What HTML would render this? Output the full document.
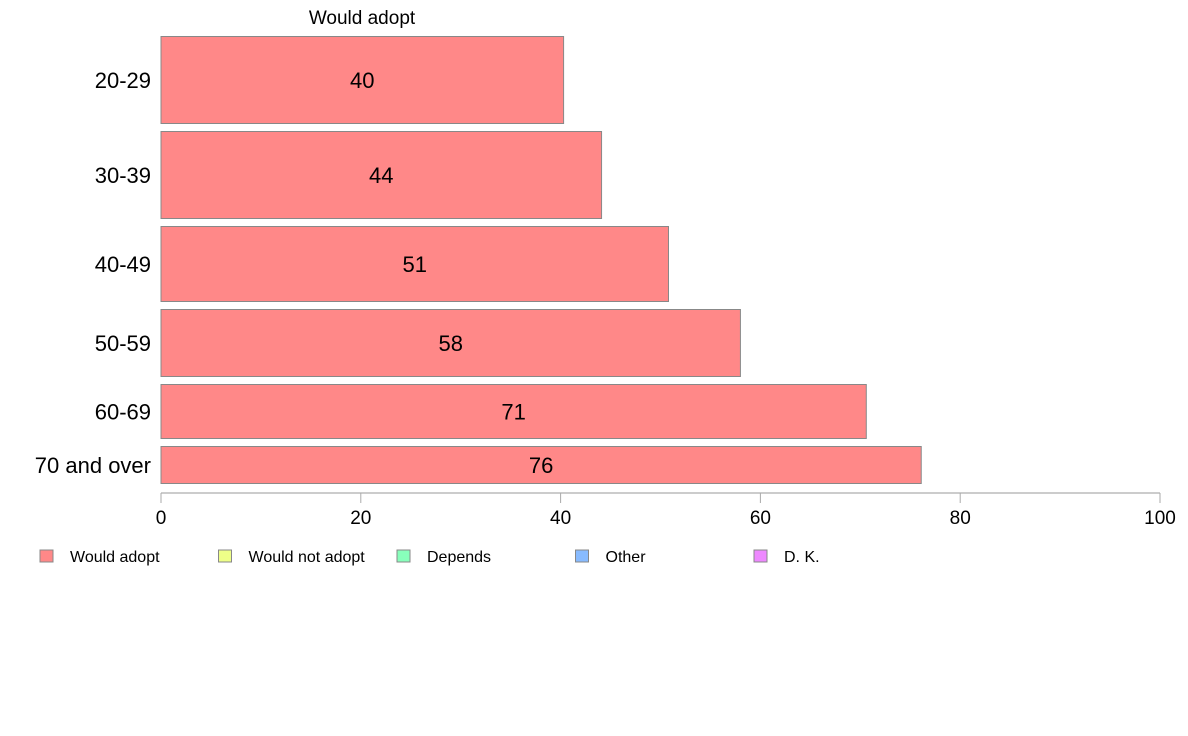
<!DOCTYPE html>
<html><head><meta charset="utf-8"><style>
html,body{margin:0;padding:0;background:#fff;}
svg{display:block;font-family:"Liberation Sans",Arial,sans-serif;}
</style></head><body>
<svg id="chart" width="1188" height="736" viewBox="0 0 1188 736">
<text x="362" y="24" font-size="19" text-anchor="middle">Would adopt</text>
<g id="bars"></g>
<g id="axis"></g>
<g id="legend"></g>
</svg>
<script>
const categories = ["20-29","30-39","40-49","50-59","60-69","70 and over"];
const wouldAdopt = [40.3, 44.1, 50.8, 58.0, 70.6, 76.1];
const valueLabels = ["40","44","51","58","71","76"];
const weights = [87, 87, 75, 67, 54, 37];
const xTicks = [0,20,40,60,80,100];
const legendLabels = ["Would adopt","Would not adopt","Depends","Other","D. K."];
const legendColors = ["#ff8888","#eeff88","#88ffbb","#88bbff","#ee88ff"];

const NS="http://www.w3.org/2000/svg";
function mk(tag,attrs,parent){const e=document.createElementNS(NS,tag);for(const k in attrs)e.setAttribute(k,attrs[k]);parent.appendChild(e);return e;}
const x0=161,x1=1160,barTop=36.5,gap=8;
function xs(v){return x0+(v/100)*(x1-x0);}
const bars=document.getElementById('bars');
let yPos=barTop;
categories.forEach((c,i)=>{
  const h=weights[i];
  const r=mk('rect',{x:x0,y:yPos,width:xs(wouldAdopt[i])-x0,height:h,fill:"#ff8888",stroke:"#888","stroke-width":1},bars);
  
  
  const t=mk('text',{x:(x0+xs(wouldAdopt[i]))/2,y:yPos+h/2+8,"font-size":22,"text-anchor":"middle"},bars);
  t.textContent=valueLabels[i];
  
  
  const l=mk('text',{x:151,y:yPos+h/2+8,"font-size":22,"text-anchor":"end"},bars);
  l.textContent=c;
  
  
  yPos+=h+gap;
});
const axis=document.getElementById('axis');
const ay=493;
const al=mk('line',{x1:x0,y1:ay,x2:x1,y2:ay,stroke:"#999","stroke-width":1},axis);


xTicks.forEach(v=>{
  const tk=mk('line',{x1:xs(v),y1:ay,x2:xs(v),y2:ay+10,stroke:"#aaa","stroke-width":1},axis);
  
  
  const tl=mk('text',{x:xs(v),y:ay+31,"font-size":19,"text-anchor":"middle"},axis);
  tl.textContent=v;
  
  
});
const legend=document.getElementById('legend');
legendLabels.forEach((lab,i)=>{
  const lx=40+i*178.5;
  const s=mk('rect',{x:lx,y:550,width:13,height:12,fill:legendColors[i],stroke:"#888","stroke-width":1},legend);
  
  
  const t=mk('text',{x:lx+30,y:562,"font-size":16},legend);
  t.textContent=lab;
  
  
});
</script>
</body></html>
